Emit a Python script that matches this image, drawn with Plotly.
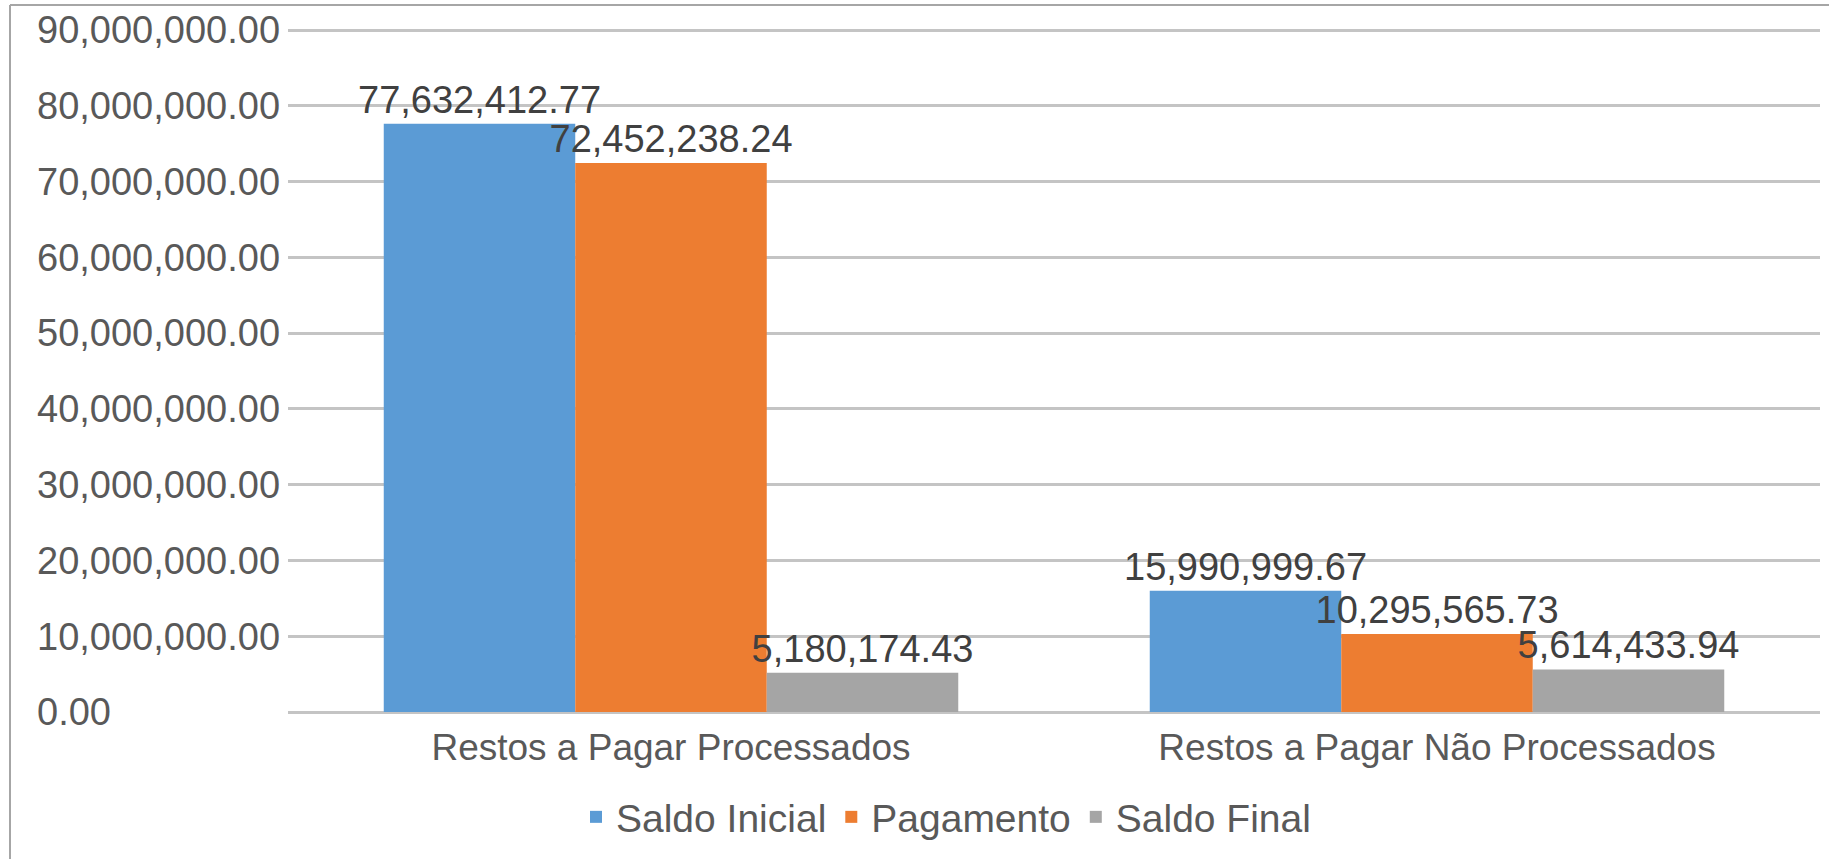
import plotly.graph_objects as go

categories = ["Restos a Pagar Processados", "Restos a Pagar Não Processados"]
series_names = ["Saldo Inicial", "Pagamento", "Saldo Final"]
saldo_inicial = [77632412.77, 15990999.67]
pagamento = [72452238.24, 10295565.73]
saldo_final = [5180174.43, 5614433.94]
colors = ["#5B9BD5", "#ED7D31", "#A5A5A5"]
y_ticks = [0, 10000000, 20000000, 30000000, 40000000, 50000000, 60000000, 70000000, 80000000, 90000000]

FONT = "Liberation Sans, Arial, sans-serif"
W, H = 1829, 859
LM, R, T, B = 33, 9, 28, 147
PLOT_LEFT = 288

fig = go.Figure()
for name, vals, col in zip(series_names, [saldo_inicial, pagamento, saldo_final], colors):
    fig.add_trace(go.Bar(
        x=categories, y=vals, name=name, marker=dict(color=col, line=dict(width=0)),
        texttemplate="%{y:,.2f}", textposition="outside", cliponaxis=False,
        constraintext="none",
        textfont=dict(family=FONT, size=38, color="#404040"),
    ))

pw = W - LM - R
ph = H - T - B
ymax = y_ticks[-1] * ph / (ph - 2)

def px_x(px):
    return (px - LM) / pw

def px_y(py):
    return (H - B - py) / ph

fig.update_layout(
    width=W, height=H,
    margin=dict(l=LM, r=R, t=T, b=B, pad=0),
    paper_bgcolor="white", plot_bgcolor="white",
    barmode="group", bargap=0.25, bargroupgap=0,
    font=dict(family=FONT, size=37, color="#595959"),
    showlegend=True,
    legend=dict(orientation="h", x=px_x(946), xanchor="center", y=px_y(817), yanchor="middle",
                font=dict(family=FONT, size=39, color="#595959"), itemwidth=30,
                traceorder="normal", bgcolor="rgba(0,0,0,0)"),
    xaxis=dict(domain=[px_x(PLOT_LEFT), 1], showgrid=False, showline=False, ticks="",
               ticklabelstandoff=10,
               tickfont=dict(family=FONT, size=37, color="#595959")),
    yaxis=dict(range=[0, ymax], tickvals=y_ticks, tickformat=",.2f",
               anchor="free", position=0, ticklabelposition="inside", ticklabeloverflow="allow",
               showgrid=True, gridcolor="#C4C4C4", gridwidth=2.5,
               zeroline=True, zerolinecolor="#C4C4C4", zerolinewidth=2.5,
               showline=False, ticks="",
               tickfont=dict(family=FONT, size=38, color="#595959")),
    shapes=[
        dict(type="line", xref="paper", yref="paper", x0=px_x(10), x1=px_x(10), y0=px_y(859), y1=px_y(5),
             line=dict(color="#A6A6A6", width=2)),
        dict(type="line", xref="paper", yref="paper", x0=px_x(10), x1=px_x(1829), y0=px_y(5), y1=px_y(5),
             line=dict(color="#A6A6A6", width=2)),
    ],
)

fig.write_html("out.html", config={"displayModeBar": False},
               post_script="document.body.style.margin='0';")
